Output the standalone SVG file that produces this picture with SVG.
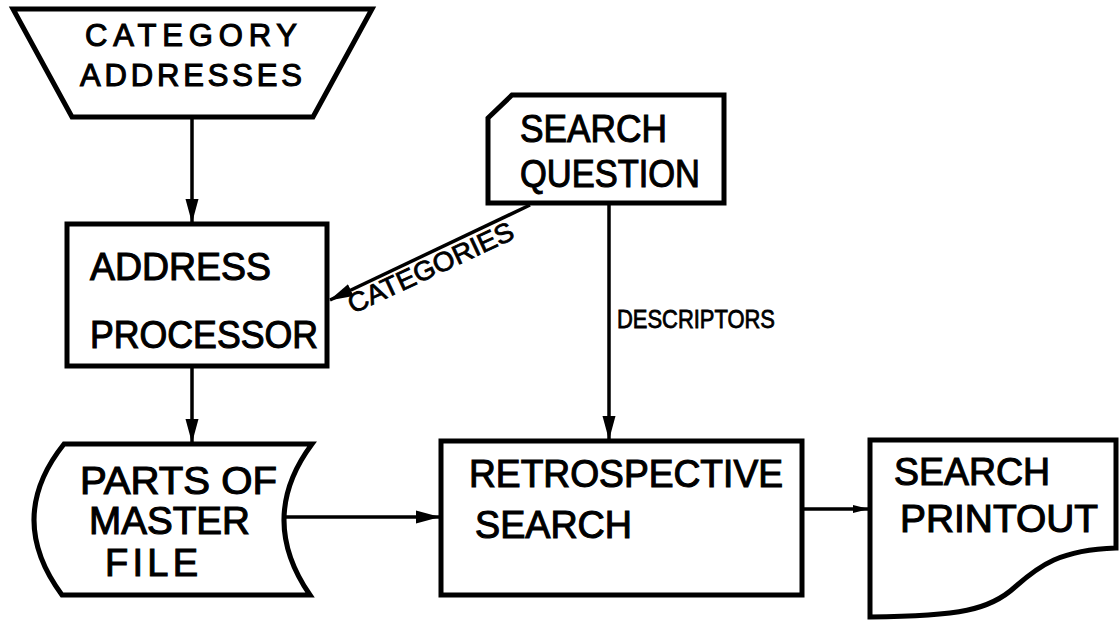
<svg xmlns="http://www.w3.org/2000/svg" width="1119" height="622" viewBox="0 0 1119 622">
<style>
.shape{fill:#fff;stroke:#000;stroke-width:5;stroke-linejoin:miter}
.conn{fill:none;stroke:#000;stroke-width:3.5}
.t{font-family:"Liberation Sans",Arial,sans-serif;fill:#000;stroke:#000;stroke-width:1.1;font-size:38px}
.s{font-family:"Liberation Sans",Arial,sans-serif;fill:#000;stroke:#000;stroke-width:0.8;font-size:25px}
</style>
<defs>
<marker id="ah" viewBox="0 0 24 14" markerWidth="24" markerHeight="14" refX="23" refY="7" orient="auto" markerUnits="userSpaceOnUse">
<path d="M0,0.5 L24,7 L0,13.5 Z" fill="#000"/>
</marker>
<marker id="ahs" viewBox="0 0 16 9" markerWidth="16" markerHeight="9" refX="15" refY="4.5" orient="auto" markerUnits="userSpaceOnUse">
<path d="M0,0.5 L16,4.5 L0,8.5 Z" fill="#000"/>
</marker>
</defs>
<rect width="1119" height="622" fill="#fff"/>
<g id="connectors">
<line class="conn" x1="192" y1="117" x2="192" y2="222" marker-end="url(#ah)"/>
<line class="conn" x1="192" y1="366" x2="192" y2="442" marker-end="url(#ah)"/>
<line class="conn" x1="609" y1="203" x2="609" y2="439" marker-end="url(#ah)"/>
<line class="conn" x1="530" y1="205" x2="330" y2="300" marker-end="url(#ah)"/>
<line class="conn" x1="284" y1="517" x2="439" y2="517" marker-end="url(#ah)"/>
<line class="conn" x1="802" y1="509" x2="868" y2="509" marker-end="url(#ahs)"/>
<text class="s" transform="translate(353,314) rotate(-25)" textLength="180" lengthAdjust="spacingAndGlyphs" style="font-size:27px">CATEGORIES</text>
<text class="s" x="617" y="328" textLength="158" lengthAdjust="spacingAndGlyphs">DESCRIPTORS</text>
</g>
<g id="category-addresses">
<polygon class="shape" points="13,9 372,9 313,117 72,117"/>
<text class="t" x="85" y="46" style="font-size:31px" textLength="212" lengthAdjust="spacing">CATEGORY</text>
<text class="t" x="80" y="86" style="font-size:31px" textLength="222" lengthAdjust="spacing">ADDRESSES</text>
</g>
<g id="address-processor">
<rect class="shape" x="67" y="224" width="260" height="142"/>
<text class="t" x="90" y="280" textLength="181" lengthAdjust="spacingAndGlyphs">ADDRESS</text>
<text class="t" x="90" y="348" textLength="228" lengthAdjust="spacingAndGlyphs">PROCESSOR</text>
</g>
<g id="search-question">
<path class="shape" d="M512,95 L724,95 L724,203 L488,203 L488,118 Z"/>
<text class="t" x="520" y="142" textLength="147" lengthAdjust="spacingAndGlyphs">SEARCH</text>
<text class="t" x="520" y="187" textLength="180" lengthAdjust="spacingAndGlyphs">QUESTION</text>
</g>
<g id="parts-of-master-file">
<path class="shape" d="M64,444 L312,444 Q257,518 310,595 L62,595 Q5,518 64,444 Z"/>
<text class="t" x="80" y="494" textLength="197" lengthAdjust="spacingAndGlyphs">PARTS OF</text>
<text class="t" x="89" y="534" textLength="161" lengthAdjust="spacingAndGlyphs">MASTER</text>
<text class="t" x="105" y="576" textLength="93" lengthAdjust="spacing">FILE</text>
</g>
<g id="retrospective-search">
<rect class="shape" x="441" y="441" width="361" height="154"/>
<text class="t" x="469" y="487" textLength="314" lengthAdjust="spacingAndGlyphs">RETROSPECTIVE</text>
<text class="t" x="475" y="538" textLength="157" lengthAdjust="spacingAndGlyphs">SEARCH</text>
</g>
<g id="search-printout">
<path class="shape" d="M870,440 L1116,440 L1116,548 C1060,550 1040,565 1015,587 C990,610 960,616 870,617 Z"/>
<text class="t" x="894" y="485" textLength="156" lengthAdjust="spacingAndGlyphs">SEARCH</text>
<text class="t" x="900" y="532" textLength="198" lengthAdjust="spacingAndGlyphs">PRINTOUT</text>
</g>
</svg>
